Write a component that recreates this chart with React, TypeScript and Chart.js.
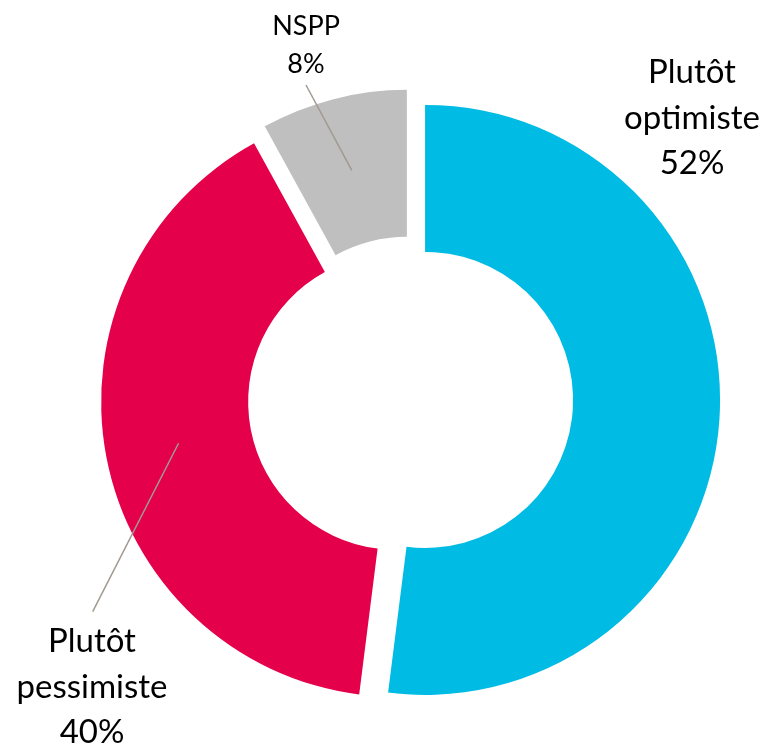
import React, { useEffect, useRef } from "react";
import { Chart, registerables } from "chart.js";

Chart.register(...registerables);

// ---- data ----
const categories = ["Plutôt optimiste", "Plutôt pessimiste", "NSPP"];
const values = [52, 40, 8];
const sliceColors = ["#00BBE3", "#E4004B", "#BFBFBF"];

// ---- label layout (canvas px) ----
const LABEL_LAYOUT = [
  { x: 692, y: 83, size: 33, lh: 45.5, leaderTo: null as null | { x: number; y: number } },
  { x: 92, y: 652, size: 33, lh: 45.5, leaderTo: { x: 92.7, y: 611.7 } },
  { x: 306, y: 34.5, size: 27, lh: 38.4, leaderTo: { x: 306, y: 85 } },
];

const EXPLODE = 58.4; // chart.js translates arcs by offset / 4

function radiusOffsetOf(arc: any) {
  const off = (arc.options?.offset || 0) / 4;
  const fix = 1 - Math.sin(Math.min(Math.PI, arc.circumference || 0));
  return off * fix;
}

// keep every exploded slice on the same radii / exact angles
const radiusFix = {
  id: "radiusFix",
  afterDatasetUpdate(chart: any, args: any) {
    const meta = chart.getDatasetMeta(args.index);
    meta.data.forEach((arc: any) => {
      const ro = radiusOffsetOf(arc);
      const drawnOuter = arc.outerRadius;
      arc.outerRadius -= ro;
      arc.innerRadius -= ro;
      const angleOffset = drawnOuter > 0 ? ro / (2 * Math.PI * drawnOuter) : 0;
      arc.startAngle -= angleOffset;
      arc.endAngle += angleOffset;
    });
  },
};

const labelsPlugin = {
  id: "outsideLabels",
  afterDatasetsDraw(chart: any) {
    const ctx: CanvasRenderingContext2D = chart.ctx;
    const meta = chart.getDatasetMeta(0);
    ctx.save();
    meta.data.forEach((arc: any, i: number) => {
      const lay = LABEL_LAYOUT[i];
      if (lay.leaderTo) {
        const mid = (arc.startAngle + arc.endAngle) / 2;
        const t = (arc.options.offset || 0) / 4;
        const ro = radiusOffsetOf(arc);
        const rMid = (arc.innerRadius + arc.outerRadius) / 2 + ro;
        const sx = arc.x + Math.cos(mid) * (t + rMid);
        const sy = arc.y + Math.sin(mid) * (t + rMid);
        ctx.beginPath();
        ctx.moveTo(sx, sy);
        ctx.lineTo(lay.leaderTo.x, lay.leaderTo.y);
        ctx.strokeStyle = "#A09A90";
        ctx.lineWidth = 1.5;
        ctx.stroke();
      }
      const lines = [...categories[i].split(" "), `${values[i]}%`];
      ctx.fillStyle = "#000000";
      ctx.font = `${lay.size}px Lato`;
      ctx.textAlign = "center";
      ctx.textBaseline = "alphabetic";
      lines.forEach((ln, k) => {
        ctx.fillText(ln, lay.x, lay.y + k * lay.lh);
      });
    });
    ctx.restore();
  },
};

export default function App() {
  const ref = useRef<HTMLCanvasElement | null>(null);
  useEffect(() => {
    if (!ref.current) return;
    const chart = new Chart(ref.current, {
      type: "doughnut",
      data: {
        labels: categories,
        datasets: [
          {
            data: values,
            backgroundColor: sliceColors,
            borderWidth: 0,
            offset: EXPLODE,
            hoverOffset: 0,
          } as any,
        ],
      },
      options: {
        animation: false,
        responsive: false,
        radius: 295,
        cutout: "50.17%",
        layout: { padding: { left: 52, top: 55, right: 0, bottom: 0 } },
        plugins: {
          legend: { display: false },
          tooltip: { enabled: false },
        },
        events: [],
      } as any,
      plugins: [radiusFix, labelsPlugin],
    });
    return () => chart.destroy();
  }, []);
  return (
    <div style={{ position: "fixed", left: 0, top: 0, width: 769, height: 743, background: "#fff" }}>
      <canvas ref={ref} width={769} height={743} style={{ display: "block" }} />
    </div>
  );
}
